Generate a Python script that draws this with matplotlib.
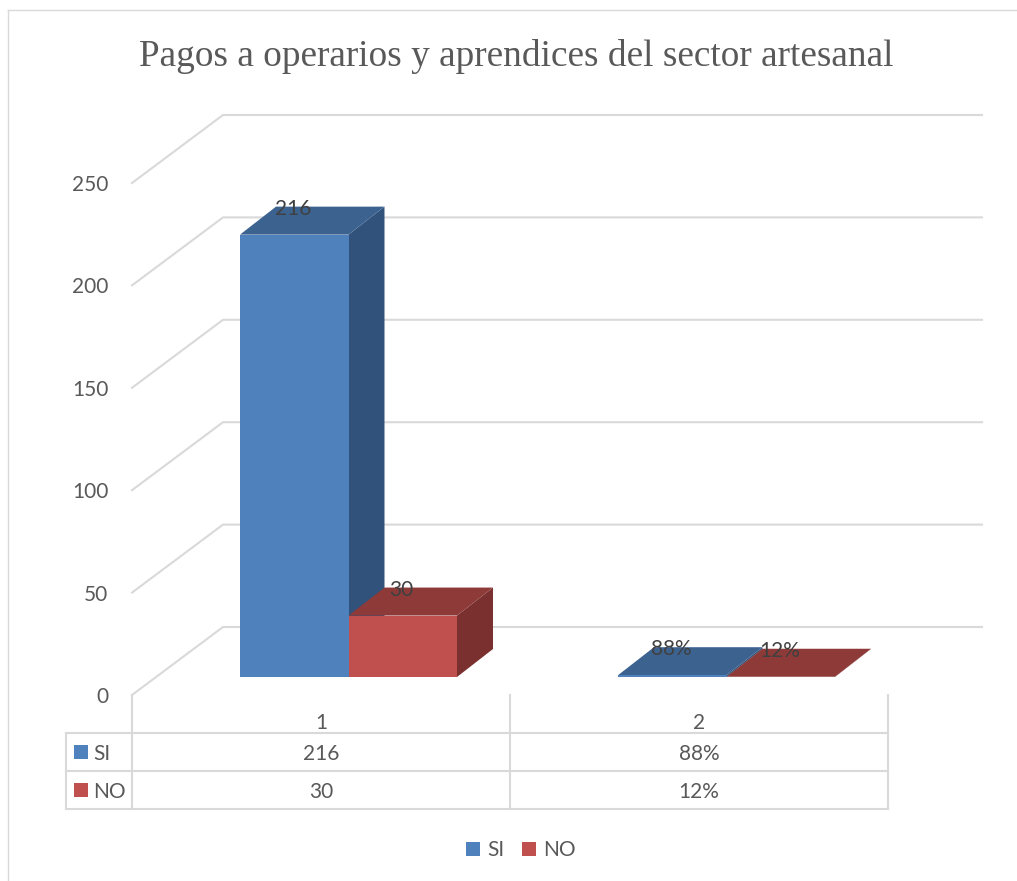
#!/usr/bin/env python3
"""Pagos a operarios y aprendices: fake 3D clustered column chart with data table."""

import matplotlib
matplotlib.use("Agg")
import matplotlib.pyplot as plt
from matplotlib.patches import Patch, Rectangle

W, H = 1017, 881

TITLE = "Pagos a operarios y aprendices del sector artesanal"
CATEGORIES = [1, 2]
SERIES = ["SI", "NO"]
SI_VALUES = [216, 0.88]
NO_VALUES = [30, 0.12]
SI_LABELS = ["216", "88%"]
NO_LABELS = ["30", "12%"]
Y_TICKS = [0, 50, 100, 150, 200, 250]

BLUE = ("#4f81bd", "#3c6290", "#31527a")   # front, top, side
RED = ("#c0504d", "#8e3a38", "#7a302e")
GRID = "#d9d9d9"
INK = "#595959"
LABEL_INK = "#404040"
SANS = "Lato"
FS = 15

# plot box in pixels
LEFT, RIGHT, Y0, Y250 = 132, 888, 695, 183
PX_X = 2 / (RIGHT - LEFT)       # data units per pixel
PX_Y = 250 / (Y0 - Y250)

plt.rcParams["font.family"] = SANS

fig = plt.figure(figsize=(W / 100, H / 100), dpi=100, facecolor="white")

# pixel overlay for the frame and the table rules
bg = fig.add_axes([0, 0, 1, 1])
bg.set_xlim(0, W)
bg.set_ylim(H, 0)
bg.axis("off")

ax = fig.add_axes([LEFT / W, 1 - Y0 / H, (RIGHT - LEFT) / W, (Y0 - Y250) / H])
ax.set_xlim(0.5, 2.5)
ax.set_ylim(0, 250)
ax.patch.set_visible(False)
for s in ax.spines.values():
    s.set_visible(False)
ax.set_yticks(Y_TICKS)
ax.set_xticks(CATEGORIES)
ax.tick_params(axis="y", length=0, pad=17, labelsize=FS, labelcolor=INK)
ax.tick_params(axis="x", length=0, pad=13, labelsize=FS, labelcolor=INK)

# walls: the grid runs along the floor diagonal then across the back
wall_dx, wall_dy = 91 * PX_X, 68 * PX_Y
wall_end = 2.5 + 94 * PX_X
for t in Y_TICKS:
    ax.plot([0.5, 0.5 + wall_dx, wall_end], [t, t + wall_dy, t + wall_dy],
            color=GRID, lw=1.5, clip_on=False, zorder=1, solid_joinstyle="miter")

# columns
bar_w = 108.5 * PX_X
shift_x, shift_y = 27.5 * PX_X, 18 * PX_Y
depth_x, depth_y = 36 * PX_X, 28 * PX_Y


def draw_column(x0, val, cols, z):
    base = shift_y
    top = base + val
    x1 = x0 + bar_w
    ax.bar(x0, val, bar_w, bottom=base, align="edge", color=cols[0], lw=0, zorder=z + 0.2, clip_on=False)
    ax.fill([x1, x1 + depth_x, x1 + depth_x, x1],
            [base, base + depth_y, top + depth_y, top],
            color=cols[2], lw=0, zorder=z, clip_on=False)
    ax.fill([x0, x1, x1 + depth_x, x0 + depth_x],
            [top, top, top + depth_y, top + depth_y],
            color=cols[1], lw=0, zorder=z + 0.1, clip_on=False)


label_dy = depth_y - 2 * PX_Y
for i, cat in enumerate(CATEGORIES):
    x_si = cat + shift_x - bar_w
    x_no = cat + shift_x
    draw_column(x_si, SI_VALUES[i], BLUE, 2)
    draw_column(x_no, NO_VALUES[i], RED, 3)
    ax.text(x_si + bar_w / 2 - 1 * PX_X, SI_VALUES[i] + shift_y + label_dy, SI_LABELS[i],
            ha="center", va="center", fontsize=FS, color=LABEL_INK, zorder=6, clip_on=False)
    ax.text(x_no + bar_w / 2 - 1 * PX_X, NO_VALUES[i] + shift_y + label_dy, NO_LABELS[i],
            ha="center", va="center", fontsize=FS, color=LABEL_INK, zorder=6, clip_on=False)

# frame
bg.plot([8, 8], [H, 10], color=GRID, lw=1)
bg.plot([8, W], [10, 10], color=GRID, lw=1)

# data table
ROWS = [733, 771, 809]
COLS = [66, 132, 510, 888]
for y in ROWS:
    bg.plot([COLS[0], COLS[-1]], [y, y], color=GRID, lw=1.5)
bg.plot([COLS[0], COLS[0]], [ROWS[0], ROWS[-1]], color=GRID, lw=1.5)
for x in COLS[1:]:
    bg.plot([x, x], [Y0, ROWS[-1]], color=GRID, lw=1.5)

table = [(SERIES[0], BLUE[0], SI_LABELS), (SERIES[1], RED[0], NO_LABELS)]
for r, (name, col, labels) in enumerate(table):
    yc = (ROWS[r] + ROWS[r + 1]) / 2
    bg.add_patch(Rectangle((74, yc - 7), 14, 14, color=col, lw=0))
    bg.text(93, yc + 1.5, name, ha="left", va="center", fontsize=FS, color=INK)
    for c, lab in enumerate(labels):
        bg.text((COLS[c + 1] + COLS[c + 2]) / 2, yc + 1.5, lab, ha="center", va="center",
                fontsize=FS, color=INK)

fig.text(516.5 / W, 1 - 57 / H, TITLE, ha="center", va="center", family="Liberation Serif",
         fontsize=26.8, color=INK)

handles = [Patch(color=BLUE[0], lw=0), Patch(color=RED[0], lw=0)]
fig.legend(handles, SERIES, loc="center", bbox_to_anchor=(521 / W, 1 - 850 / H), ncol=2,
           frameon=False, fontsize=FS, labelcolor=INK, handlelength=0.65, handleheight=0.65,
           handletextpad=0.35, columnspacing=0.85)

fig.savefig("out.png", dpi=100, facecolor="white")
